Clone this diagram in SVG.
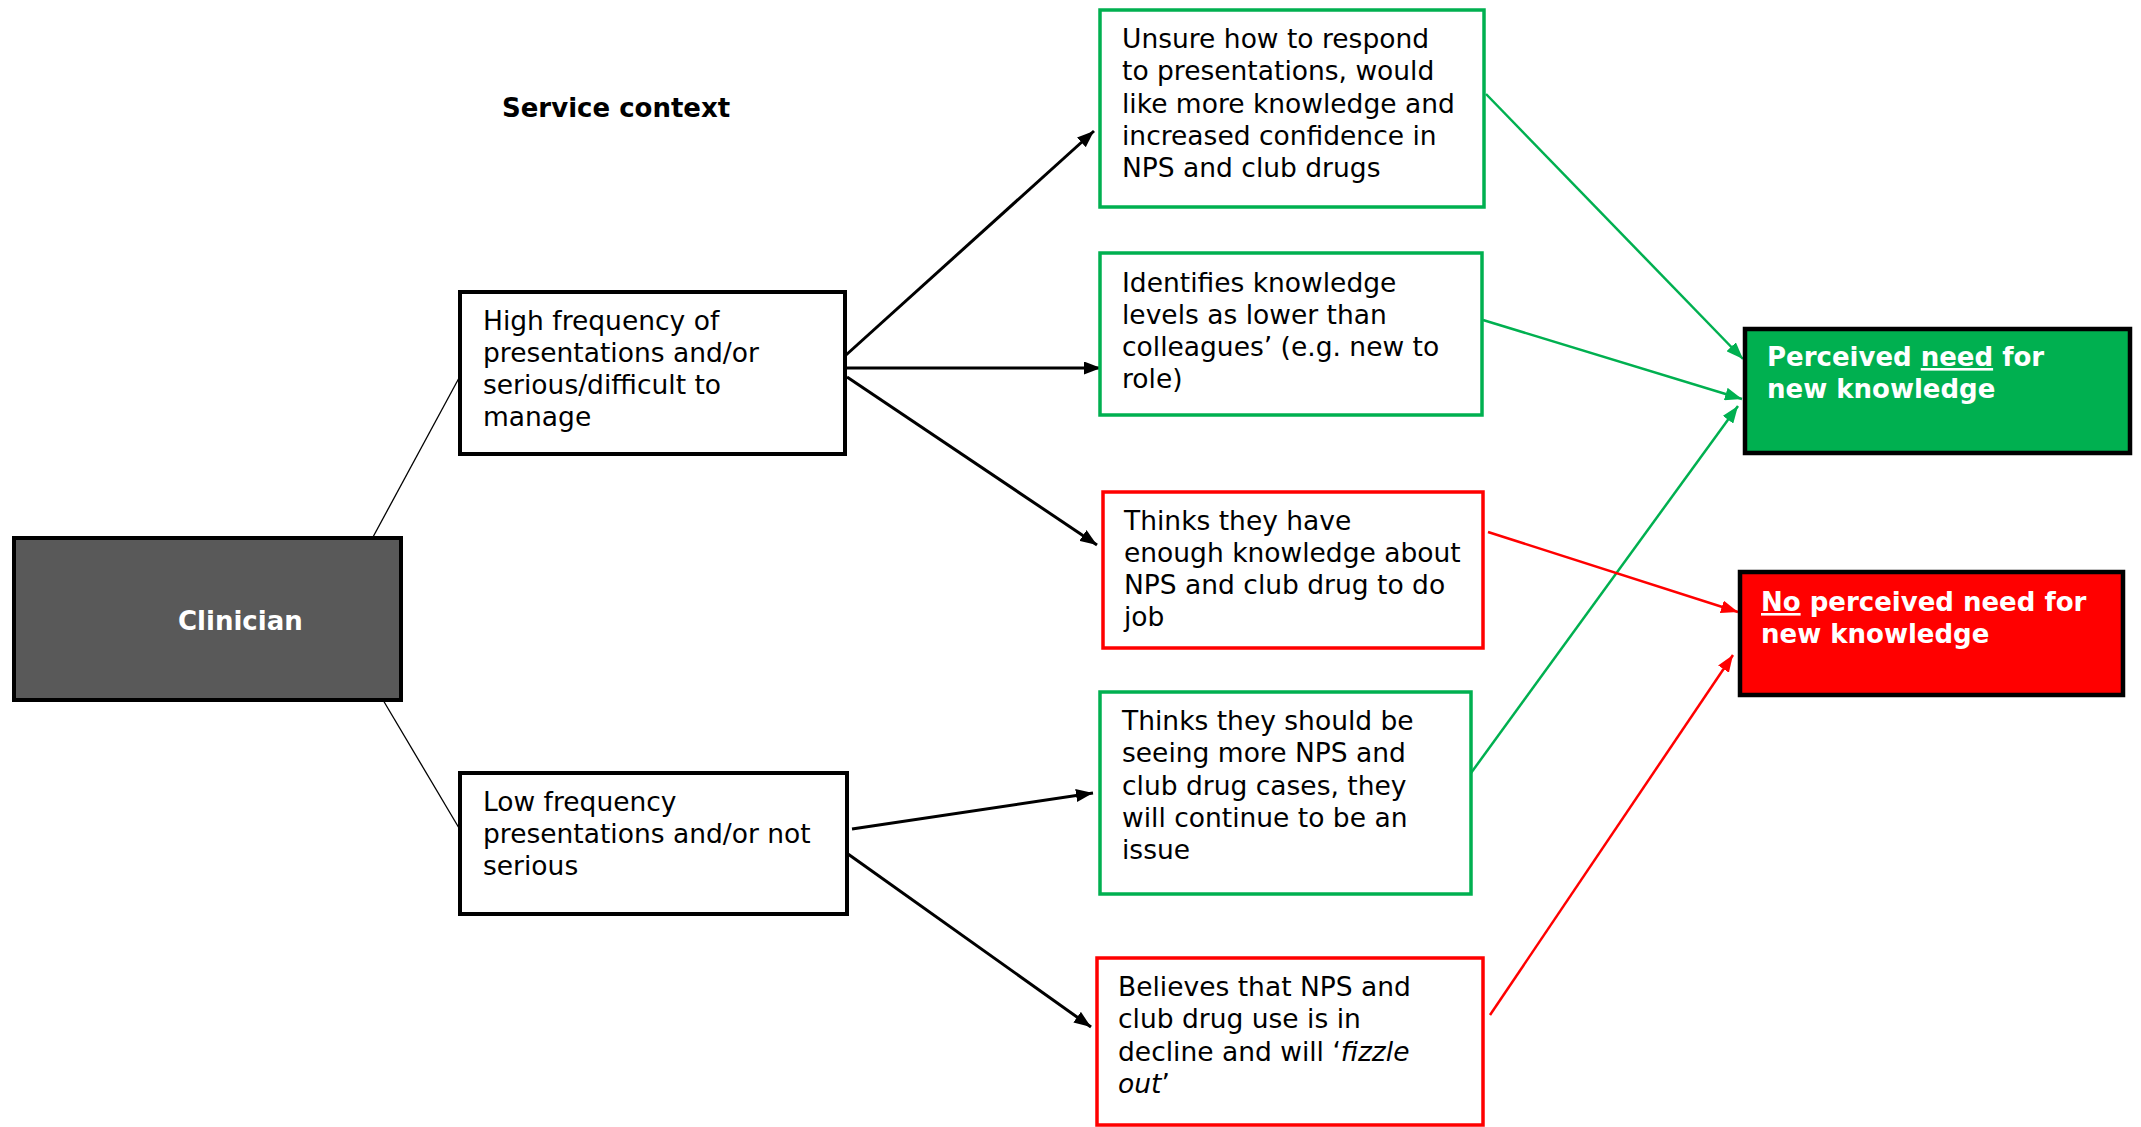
<svg xmlns="http://www.w3.org/2000/svg" width="2141" height="1127" viewBox="0 0 2141 1127">
<style>
  text { font-family: "DejaVu Sans", Verdana, sans-serif; font-size: 26.5px; fill: #000; }
  .b { font-weight: bold; font-size: 26px; }
  .w { fill: #fff; }
  .blk { fill: #fff; stroke: #000; stroke-width: 4; }
  .grn { fill: #fff; stroke: #00B050; stroke-width: 3.5; }
  .red { fill: #fff; stroke: #FF0000; stroke-width: 3.5; }
  .thin { stroke: #000; stroke-width: 1.3; fill: none; }
  .ak { stroke: #000; stroke-width: 3; fill: none; marker-end: url(#mk); }
  .ag { stroke: #00B050; stroke-width: 2.5; fill: none; marker-end: url(#mg); }
  .ar { stroke: #FF0000; stroke-width: 2.5; fill: none; marker-end: url(#mr); }
  .u { text-decoration: underline; }
  .i { font-style: italic; }
</style>
<defs>
  <marker id="mk" markerUnits="userSpaceOnUse" markerWidth="17" markerHeight="13" refX="17" refY="6.5" orient="auto"><path d="M0,0 L17,6.5 L0,13 z" fill="#000"/></marker>
  <marker id="mg" markerUnits="userSpaceOnUse" markerWidth="17" markerHeight="13" refX="17" refY="6.5" orient="auto"><path d="M0,0 L17,6.5 L0,13 z" fill="#00B050"/></marker>
  <marker id="mr" markerUnits="userSpaceOnUse" markerWidth="17" markerHeight="13" refX="17" refY="6.5" orient="auto"><path d="M0,0 L17,6.5 L0,13 z" fill="#FF0000"/></marker>
</defs>
<rect width="2141" height="1127" fill="#fff"/>

<text id="title" class="b" x="502" y="117">Service context</text>

<g id="connectors">
  <line class="thin" x1="373" y1="537" x2="459" y2="378"/>
  <line class="thin" x1="383" y1="700" x2="459" y2="828"/>
  <line class="ak" x1="846" y1="355" x2="1094" y2="131"/>
  <line class="ak" x1="847" y1="368" x2="1101" y2="368"/>
  <line class="ak" x1="847" y1="377" x2="1097" y2="545"/>
  <line class="ak" x1="852" y1="829" x2="1093" y2="793"/>
  <line class="ak" x1="848" y1="854" x2="1091" y2="1027"/>
  <line class="ag" x1="1486" y1="94" x2="1743" y2="359"/>
  <line class="ag" x1="1483" y1="320" x2="1742" y2="399"/>
  <line class="ag" x1="1471" y1="773" x2="1738" y2="406"/>
  <line class="ar" x1="1488" y1="532" x2="1738" y2="612"/>
  <line class="ar" x1="1490" y1="1015" x2="1733" y2="655"/>
</g>

<g id="clinician">
  <rect x="14" y="538" width="387" height="162" fill="#595959" stroke="#000" stroke-width="4"/>
  <text class="b w" x="178" y="630">Clinician</text>
</g>

<g id="high">
  <rect class="blk" x="460" y="292" width="385" height="162"/>
  <text x="483" y="330">High frequency of</text>
  <text x="483" y="362">presentations and/or</text>
  <text x="483" y="394">serious/difficult to</text>
  <text x="483" y="426">manage</text>
</g>

<g id="low">
  <rect class="blk" x="460" y="773" width="387" height="141"/>
  <text x="483" y="811">Low frequency</text>
  <text x="483" y="843">presentations and/or not</text>
  <text x="483" y="875">serious</text>
</g>

<g id="unsure">
  <rect class="grn" x="1100" y="10" width="384" height="197"/>
  <text x="1122" y="48">Unsure how to respond</text>
  <text x="1122" y="80">to presentations, would</text>
  <text x="1122" y="113">like more knowledge and</text>
  <text x="1122" y="145">increased confidence in</text>
  <text x="1122" y="177">NPS and club drugs</text>
</g>

<g id="identifies">
  <rect class="grn" x="1100" y="253" width="382" height="162"/>
  <text x="1122" y="292">Identifies knowledge</text>
  <text x="1122" y="324">levels as lower than</text>
  <text x="1122" y="356">colleagues’ (e.g. new to</text>
  <text x="1122" y="388">role)</text>
</g>

<g id="enough">
  <rect class="red" x="1103" y="492" width="380" height="156"/>
  <text x="1124" y="530">Thinks they have</text>
  <text x="1124" y="562">enough knowledge about</text>
  <text x="1124" y="594">NPS and club drug to do</text>
  <text x="1124" y="626">job</text>
</g>

<g id="should">
  <rect class="grn" x="1100" y="692" width="371" height="202"/>
  <text x="1122" y="730">Thinks they should be</text>
  <text x="1122" y="762">seeing more NPS and</text>
  <text x="1122" y="795">club drug cases, they</text>
  <text x="1122" y="827">will continue to be an</text>
  <text x="1122" y="859">issue</text>
</g>

<g id="believes">
  <rect class="red" x="1097" y="958" width="386" height="167"/>
  <text x="1118" y="996">Believes that NPS and</text>
  <text x="1118" y="1028">club drug use is in</text>
  <text x="1118" y="1061">decline and will ‘<tspan class="i">fizzle</tspan></text>
  <text x="1118" y="1093"><tspan class="i">out</tspan>’</text>
</g>

<g id="need">
  <rect x="1745" y="329" width="385" height="124" fill="#00B050" stroke="#000" stroke-width="4.5"/>
  <text class="b w" x="1767" y="366">Perceived <tspan class="u">need</tspan> for</text>
  <text class="b w" x="1767" y="398">new knowledge</text>
</g>

<g id="noneed">
  <rect x="1740" y="572" width="383" height="123" fill="#FF0000" stroke="#000" stroke-width="4.5"/>
  <text class="b w" x="1761" y="611"><tspan class="u">No</tspan> perceived need for</text>
  <text class="b w" x="1761" y="643">new knowledge</text>
</g>
</svg>
